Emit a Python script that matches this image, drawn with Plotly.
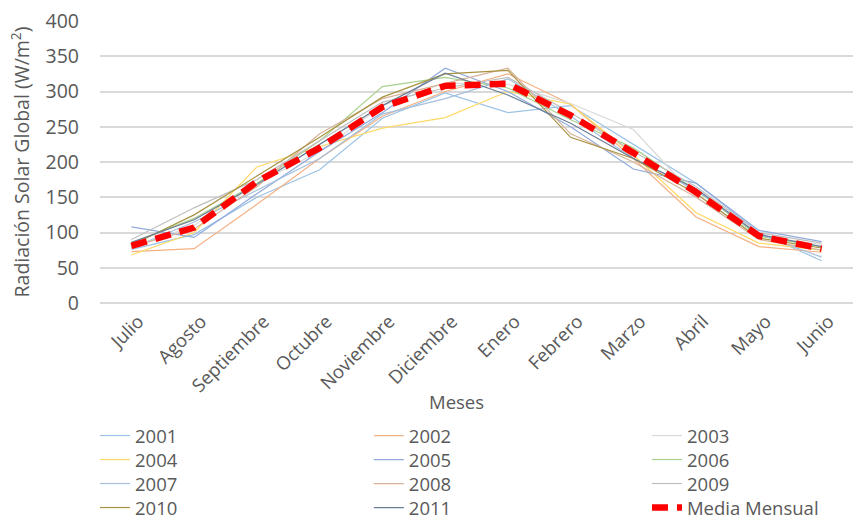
import plotly.graph_objects as go

# Months (southern-hemisphere year, July to June)
meses = ["Julio", "Agosto", "Septiembre", "Octubre", "Noviembre", "Diciembre",
         "Enero", "Febrero", "Marzo", "Abril", "Mayo", "Junio"]

# Monthly global solar radiation per year (W/m2)
y2001 = [76, 97, 150, 189, 262, 298, 270, 280, 225, 170, 100, 60]
y2002 = [73, 77, 140, 205, 265, 300, 325, 282, 205, 122, 80, 72]
y2003 = [78, 110, 170, 215, 280, 312, 310, 283, 246, 150, 95, 83]
y2004 = [68, 100, 193, 222, 248, 263, 300, 282, 210, 128, 85, 75]
y2005 = [108, 93, 155, 215, 270, 333, 300, 250, 190, 170, 103, 87]
y2006 = [85, 120, 170, 230, 307, 320, 305, 260, 220, 160, 95, 80]
y2007 = [78, 115, 160, 205, 268, 290, 318, 265, 205, 160, 98, 65]
y2008 = [80, 105, 165, 240, 290, 312, 333, 240, 200, 150, 90, 75]
y2009 = [90, 135, 175, 230, 285, 305, 320, 270, 215, 165, 100, 85]
y2010 = [82, 125, 180, 235, 292, 325, 330, 235, 205, 155, 92, 78]
y2011 = [86, 118, 168, 225, 280, 326, 295, 255, 205, 162, 97, 80]

# Monthly mean across all years
media = [81, 107, 172, 220, 278, 308, 311, 266, 213, 157, 95, 77]

years = ["2001", "2002", "2003", "2004", "2005", "2006",
         "2007", "2008", "2009", "2010", "2011"]
series = [y2001, y2002, y2003, y2004, y2005, y2006,
          y2007, y2008, y2009, y2010, y2011]
colors = ["#9DC3E6", "#F4B183", "#D9D9D9", "#FFD966", "#8FAADC", "#A9D18E",
          "#A5BFDD", "#D6B39A", "#BFBFBF", "#A8923F", "#6C7E96"]

FONT = "Open Sans"
GREY = "#595959"

# legend grid: 3 columns x 4 rows, one legend box per entry
col_x = [-0.0066, 0.357, 0.7264]
row_y = [-0.4043, -0.4894, -0.5745, -0.6596]

fig = go.Figure()
legend_boxes = {}
names = years + ["Media Mensual"]
for i, name in enumerate(names):
    key = "legend" if i == 0 else f"legend{i + 1}"
    legend_boxes[key] = dict(
        x=col_x[i % 3], y=row_y[i // 3], xanchor="left", yanchor="top",
        orientation="v", font=dict(size=18.5, color=GREY),
        bgcolor="rgba(0,0,0,0)", borderwidth=0,
    )
    if i < len(years):
        fig.add_trace(go.Scatter(x=meses, y=series[i], name=name, mode="lines",
                                 legend=key,
                                 line=dict(color=colors[i], width=1.2)))
    else:
        fig.add_trace(go.Scatter(x=meses, y=media, name=name, mode="lines",
                                 legend=key,
                                 line=dict(color="#FF0000", width=6.5,
                                           dash="16px,9px")))

fig.update_layout(
    width=853, height=519,
    margin=dict(l=100, r=0, t=21, b=216, autoexpand=False),
    paper_bgcolor="white", plot_bgcolor="white",
    font=dict(family=FONT, size=18, color=GREY),
    xaxis=dict(
        type="category", range=[-0.5, 11.5], automargin=False,
        tickangle=-45, ticklabelshift=7, ticklabelstandoff=3,
        showgrid=False, showline=False, ticks="",
        tickfont=dict(size=18.5, color=GREY),
    ),
    yaxis=dict(
        range=[0, 400], dtick=50, automargin=False,
        showgrid=True, gridcolor="#D9D9D9", gridwidth=1.5,
        zeroline=True, zerolinecolor="#D9D9D9", zerolinewidth=1.5,
        showline=False, ticks="", ticklabelstandoff=20,
        tickfont=dict(size=19.5, color=GREY),
        title=dict(text="Radiación Solar Global (W/m<sup>2</sup>)",
                   font=dict(size=19.5, color=GREY), standoff=10),
    ),
    showlegend=True,
    **legend_boxes,
)

fig.add_annotation(text="Meses", xref="paper", yref="paper",
                   x=0.474, y=-0.348, xanchor="center", yanchor="middle",
                   showarrow=False, font=dict(size=18.5, color=GREY))

fig.write_html("out.html")
